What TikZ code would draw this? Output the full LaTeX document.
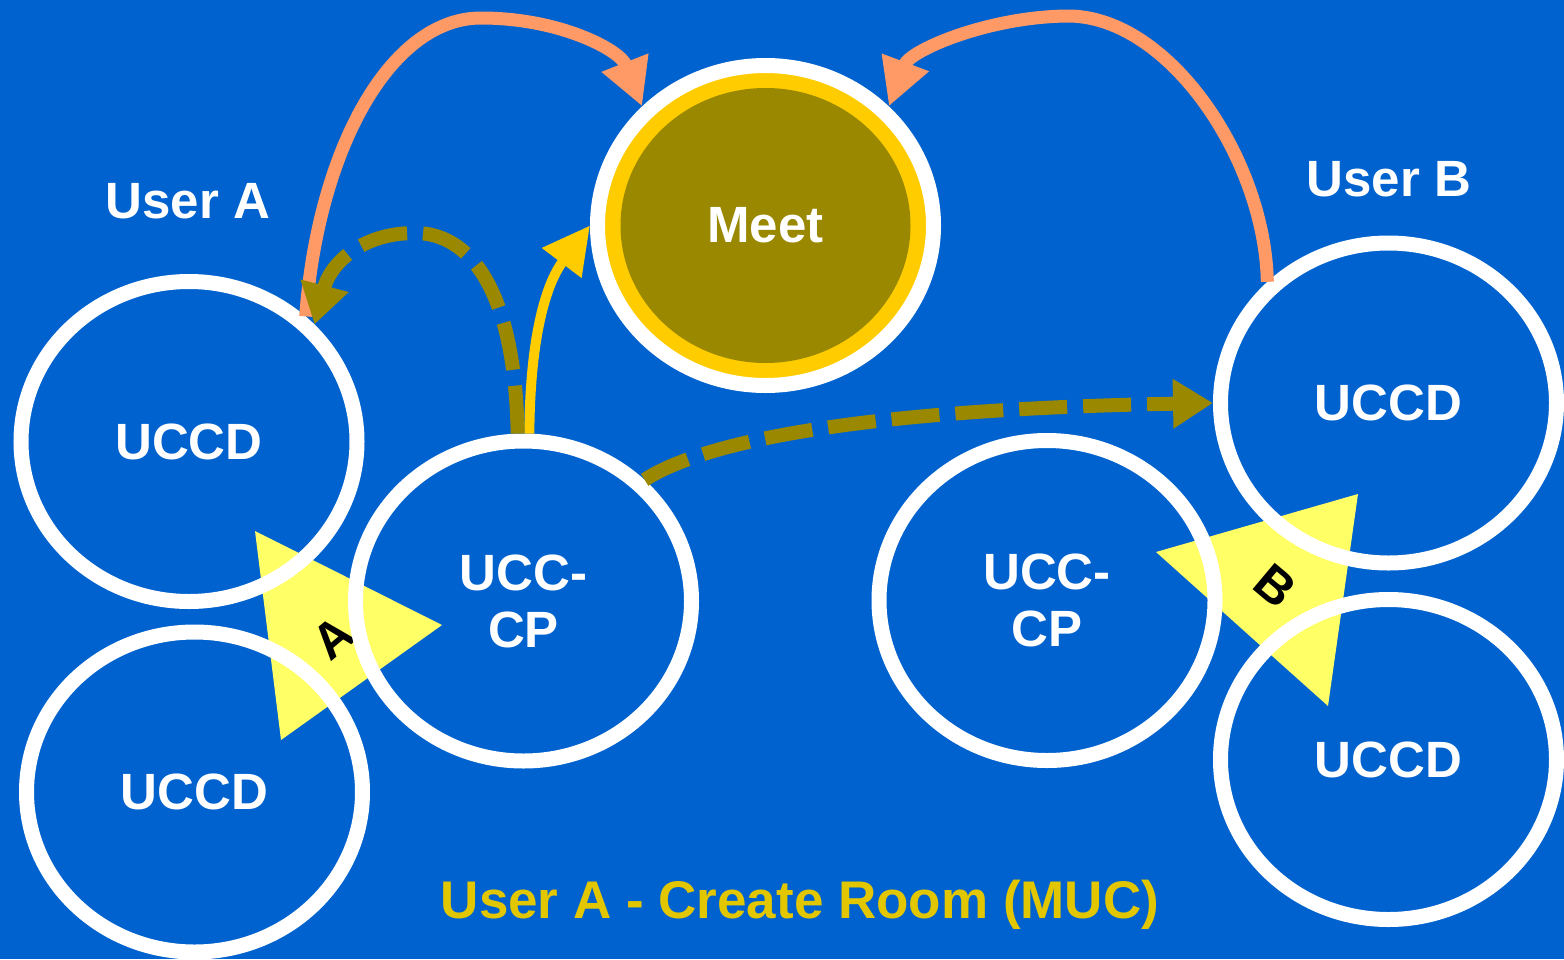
\documentclass[tikz,border=0pt]{standalone}
\usepackage{fontspec}
\setmainfont{Liberation Sans}
\usetikzlibrary{shapes.geometric,arrows.meta}

\definecolor{bgblue}{RGB}{0,98,206}
\definecolor{salmon}{RGB}{255,153,102}
\definecolor{goldring}{RGB}{255,204,0}
\definecolor{olivefill}{RGB}{153,136,0}
\definecolor{triyellow}{RGB}{255,255,102}
\definecolor{titleyellow}{RGB}{226,198,0}

\tikzset{
  bigfont/.style={font=\fontsize{51pt}{57pt}\selectfont\bfseries},
  ring/.style={ellipse, draw=white, line width=15pt, minimum width=336pt,
    minimum height=320pt, inner sep=0pt, align=center, text=white, bigfont},
  flag/.style={fill=triyellow},
  flagletter/.style={text=black, font=\fontsize{50pt}{50pt}\selectfont\bfseries, inner sep=0pt},
  userlabel/.style={text=white, bigfont, inner sep=0pt},
  salmonarrow/.style={draw=salmon, line width=13pt,
    -{Triangle[length=47pt,width=47pt]}},
  yellowarrow/.style={draw=goldring, line width=10pt,
    -{Triangle[length=47pt,width=47pt]}},
  olivearrow/.style={draw=olivefill, line width=14pt, dash pattern=on 48pt off 16pt,
    -{Triangle[length=40pt,width=47pt]}},
}

\begin{document}
\begin{tikzpicture}[x=1pt,y=-1pt]
  \useasboundingbox (0,0) rectangle (1564,959);
  \clip (0,0) rectangle (1564,959);
  \fill[bgblue] (0,0) rectangle (1564,959);

  % pointer flags behind the rings
  \fill[flag] (255,531) -- (442,625) -- (281,740) -- cycle;
  \fill[flag] (1156,552) -- (1358,494) -- (1328,706) -- cycle;
  \node[flagletter, rotate=40] (flagA) at (333,638) {A};
  \node[flagletter, rotate=-40] (flagB) at (1275,586) {B};

  % user A side
  \node[ring] (uccdA)  at (189,441.5) {UCCD};
  \node[ring] (uccdA2) at (194.5,792) {UCCD};
  \node[ring] (cpA)    at (523.5,601) {UCC-\\CP};

  % user B side
  \node[ring] (cpB)    at (1047,600.5) {UCC-\\CP};
  \node[ring] (uccdB)  at (1388.5,403) {UCCD};
  \node[ring] (uccdB2) at (1388.5,759.5) {UCCD};

  % conference room
  \node[ring, fill=goldring,
    path picture={\fill[olivefill] (path picture bounding box.center)
      ellipse [x radius=145pt, y radius=137.5pt];}]
    (meet) at (765.5,225.5) {Meet};

  % labels
  \node[userlabel] (userA) at (188,201) {User A};
  \node[userlabel] (userB) at (1389,179) {User B};
  \node[text=titleyellow, font=\fontsize{53pt}{57pt}\selectfont\bfseries,
    anchor=base, inner sep=0pt] (title) at (800,918)
    {User A - Create Room (MUC)};

  % connectors
  \draw[salmonarrow] (uccdA.47) .. controls (318,150) and (390,18) .. (481,18)
    .. controls (560,18) and (620,50) .. (meet.136);
  \draw[salmonarrow] (uccdB.135) .. controls (1265,160) and (1170,18) .. (1070,16)
    .. controls (990,16) and (910,50) .. (meet.44);
  \draw[yellowarrow] (cpA.88) .. controls (530,340) and (545,285) .. (meet.180);
  \draw[olivearrow] (cpA.92) .. controls (515,290) and (470,233) .. (415,233)
    .. controls (360,233) and (330,265) .. (uccdA.43);
  \draw[olivearrow] (cpA.45) .. controls (690,450) and (820,410) .. (uccdB.180);
\end{tikzpicture}
\end{document}
